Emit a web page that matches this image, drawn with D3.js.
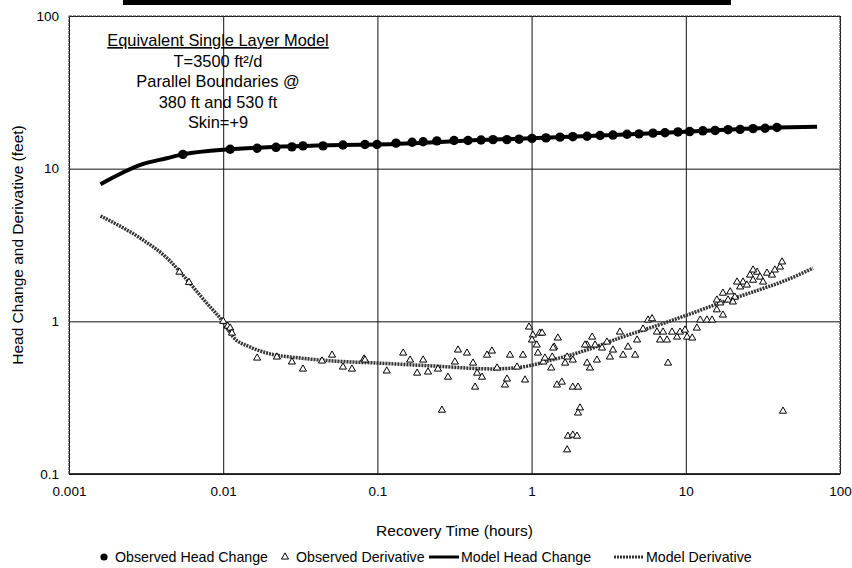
<!DOCTYPE html>
<html>
<head>
<meta charset="utf-8">
<script src="https://cdn.jsdelivr.net/npm/d3@7"></script>
<style>
  body { margin: 0; background: #fff; }
  svg { font-family: Arial, "Liberation Sans", sans-serif; }
</style>
</head>
<body>
<svg id="chart" width="852" height="568"></svg>
<script>
// observed head change (hours, feet)
const headTime = [0.00548, 0.0111, 0.0166, 0.022, 0.0279, 0.0329, 0.0444, 0.0598, 0.0831, 0.0994,
  0.132, 0.168, 0.198, 0.243, 0.314, 0.387, 0.47, 0.562, 0.692, 0.829,
  1.006, 1.24, 1.53, 1.85, 2.29, 2.78, 3.37, 4.16, 4.97, 6.13,
  7.33, 8.89, 10.6, 12.9, 15.5, 18.8, 22.5, 27.3, 32.7, 39.0];
const headValue = [12.4, 13.4, 13.6, 13.8, 13.9, 14.1, 14.1, 14.3, 14.4, 14.4,
  14.7, 14.9, 15.0, 15.2, 15.3, 15.3, 15.4, 15.5, 15.5, 15.6,
  15.8, 15.9, 16.1, 16.2, 16.3, 16.5, 16.6, 16.8, 16.9, 17.1,
  17.2, 17.4, 17.5, 17.7, 17.8, 18.0, 18.1, 18.3, 18.4, 18.6];

// observed derivative
const derivTime = [0.0052, 0.006, 0.01, 0.0107, 0.0111, 0.0114, 0.0166, 0.0223, 0.0279, 0.0329,
  0.0437, 0.0508, 0.0598, 0.0684, 0.0819, 0.0831, 0.115, 0.147, 0.163, 0.181,
  0.198, 0.213, 0.247, 0.287, 0.318, 0.333, 0.381, 0.417, 0.443, 0.43,
  0.477, 0.514, 0.553, 0.597, 0.692, 0.672, 0.724, 0.804, 0.879, 0.906,
  0.262, 0.962, 1.02, 1.13, 1.006, 1.08, 1.10, 1.19, 1.36, 1.40,
  1.48, 1.34, 1.46, 1.57, 1.85, 2.00, 2.06, 2.00, 1.72, 1.85,
  1.97, 1.70, 1.65, 1.70, 1.85, 2.29, 2.39, 2.47, 2.29, 2.58,
  2.65, 1.17, 1.38, 1.22, 2.22, 2.86, 3.08, 3.37, 3.22, 3.74,
  3.92, 4.22, 4.69, 4.83, 5.69, 6.04, 5.28, 6.50, 6.81, 7.55,
  7.67, 7.12, 8.14, 8.77, 9.17, 9.88, 10.2, 11.0, 11.8, 12.4,
  13.7, 14.8, 15.9, 17.4, 16.7, 15.9, 17.4, 19.4, 20.8, 22.5,
  23.5, 26.1, 27.3, 29.0, 30.3, 31.7, 33.6, 36.2, 37.8, 40.8,
  42.1, 24.9, 27.3, 21.5, 18.8, 20.2, 42.7];
const derivValue = [2.1, 1.8, 1.0, 0.93, 0.904, 0.838, 0.575, 0.584, 0.542, 0.487,
  0.55, 0.601, 0.502, 0.487, 0.567, 0.558, 0.473, 0.62, 0.558, 0.458,
  0.558, 0.466, 0.487, 0.431, 0.542, 0.649, 0.62, 0.533, 0.458, 0.371,
  0.431, 0.601, 0.639, 0.495, 0.419, 0.383, 0.601, 0.502, 0.601, 0.413,
  0.262, 0.918, 0.813, 0.838, 0.755, 0.70, 0.62, 0.542, 0.584, 0.679,
  0.778, 0.495, 0.383, 0.40, 0.371, 0.371, 0.271, 0.251, 0.177, 0.18,
  0.177, 0.144, 0.533, 0.584, 0.558, 0.533, 0.495, 0.789, 0.70, 0.70,
  0.558, 0.838, 0.669, 0.575, 0.70, 0.669, 0.732, 0.649, 0.584, 0.851,
  0.601, 0.679, 0.601, 0.755, 1.02, 1.04, 0.891, 0.851, 0.755, 0.755,
  0.533, 0.851, 0.851, 0.789, 0.851, 0.877, 0.789, 0.778, 0.904, 1.02,
  1.02, 1.02, 1.19, 1.10, 1.32, 1.38, 1.53, 1.56, 1.44, 1.68,
  1.81, 2.01, 1.86, 2.10, 1.95, 1.81, 2.07, 2.01, 2.17, 2.27,
  2.45, 1.73, 2.17, 1.81, 1.38, 1.34, 0.258];

// model curves
const modelHeadTime = [0.0016, 0.003, 0.0043, 0.0055, 0.0111, 0.0598, 0.1, 0.56, 1.0, 3.37, 10.6, 39, 71];
const modelHeadValue = [7.9, 10.7, 11.7, 12.4, 13.4, 14.3, 14.4, 15.5, 15.8, 16.6, 17.5, 18.6, 18.8];
const modelDerivTime = [0.0016, 0.00302, 0.00432, 0.00582, 0.0078, 0.01, 0.0116, 0.0149, 0.0192, 0.0315,
  0.0515, 0.1, 0.23, 0.56, 0.84, 1.37, 2.29, 3.74, 6.13, 10.2, 16.7, 27.3, 45.3, 66.8];
const modelDerivValue = [4.9, 3.41, 2.6, 1.87, 1.32, 0.99, 0.79, 0.68, 0.62, 0.575,
  0.55, 0.533, 0.51, 0.488, 0.5, 0.56, 0.65, 0.78, 0.92, 1.1, 1.32, 1.56, 1.87, 2.23];

const xTicks = [0.001, 0.01, 0.1, 1, 10, 100];
const yTicks = [0.1, 1, 10, 100];
const noteLines = ["T=3500 ft\u00B2/d", "Parallel Boundaries @", "380 ft and 530 ft", "Skin=+9"];

const svg = d3.select("#chart");
const margin = { top: 16, right: 12, bottom: 94, left: 69 };
const width = 852 - margin.left - margin.right,
  height = 568 - margin.top - margin.bottom;

const x = d3.scaleLog().domain([0.001, 100]).range([0, width]);
const y = d3.scaleLog().domain([0.1, 100]).range([height, 0]);

// remnant of the title underline, cut off at the top
svg.append("rect").attr("x", 123).attr("y", 0).attr("width", 608).attr("height", 5).attr("fill", "#000");

const g = svg.append("g").attr("transform", "translate(" + margin.left + "," + margin.top + ")");

// grid + axes
g.append("g")
  .attr("transform", "translate(0," + height + ")")
  .call(d3.axisBottom(x).tickValues(xTicks).tickSize(-height).tickPadding(12).tickFormat(d => String(d)))
  .call(a => a.select(".domain").remove())
  .call(a => a.selectAll("line").attr("stroke", "#111").attr("stroke-width", 1))
  .call(a => a.selectAll("text").attr("font-size", 13.5).attr("fill", "#000"));

g.append("g")
  .call(d3.axisLeft(y).tickValues(yTicks).tickSize(-width).tickPadding(10).tickFormat(d => String(d)))
  .call(a => a.select(".domain").remove())
  .call(a => a.selectAll("line").attr("stroke", "#111").attr("stroke-width", 1))
  .call(a => a.selectAll("text").attr("font-size", 13.5).attr("fill", "#000"));

g.append("rect")
  .attr("width", width).attr("height", height)
  .attr("fill", "none").attr("stroke", "#444").attr("stroke-width", 1.2)
  .attr("stroke-dasharray", "3,1");
g.append("line")
  .attr("x1", 0).attr("x2", width).attr("y1", height).attr("y2", height)
  .attr("stroke", "#111").attr("stroke-width", 1.5);

// axis titles
svg.append("text")
  .attr("x", margin.left + width / 2).attr("y", 536)
  .attr("text-anchor", "middle").attr("font-size", 15.5)
  .text("Recovery Time (hours)");

svg.append("text")
  .attr("transform", "translate(23," + (margin.top + height / 2) + ") rotate(-90)")
  .attr("text-anchor", "middle").attr("font-size", 15.5)
  .text("Head Change and Derivative (feet)");

// model head change
const line = d3.line().x(d => x(d[0])).y(d => y(d[1])).curve(d3.curveMonotoneX);
g.append("path")
  .datum(d3.zip(modelHeadTime, modelHeadValue))
  .attr("d", line)
  .attr("fill", "none").attr("stroke", "#000").attr("stroke-width", 4);

// model derivative
g.append("path")
  .datum(d3.zip(modelDerivTime, modelDerivValue))
  .attr("d", line)
  .attr("fill", "none").attr("stroke", "#333").attr("stroke-width", 3.5)
  .attr("stroke-dasharray", "2,1");

// observed derivative
const tri = d3.symbol().type(d3.symbolTriangle).size(22);
g.append("g").selectAll("path")
  .data(d3.zip(derivTime, derivValue))
  .enter().append("path")
  .attr("d", tri)
  .attr("transform", d => "translate(" + x(d[0]) + "," + y(d[1]) + ")")
  .attr("fill", "#fff").attr("stroke", "#000").attr("stroke-width", 1);

// observed head change
g.append("g").selectAll("circle")
  .data(d3.zip(headTime, headValue))
  .enter().append("circle")
  .attr("cx", d => x(d[0])).attr("cy", d => y(d[1]))
  .attr("r", 4.7).attr("fill", "#000");

// annotation
const note = svg.append("g").attr("font-size", 16.4).attr("text-anchor", "middle");
note.append("text").attr("x", 218).attr("y", 46)
  .attr("text-decoration", "underline")
  .text("Equivalent Single Layer Model");
noteLines.forEach((t, i) => {
  note.append("text").attr("x", 218).attr("y", 66.5 + i * 20.5).text(t);
});

// legend
const legend = svg.append("g").attr("font-size", 14.2).attr("transform", "translate(0,557)");
const items = [
  { label: "Observed Head Change", x: 114, kind: "circle" },
  { label: "Observed Derivative", x: 295, kind: "tri" },
  { label: "Model Head Change", x: 460, kind: "head" },
  { label: "Model Derivative", x: 645, kind: "deriv" }
];
items.forEach(it => {
  const li = legend.append("g").attr("transform", "translate(" + it.x + ",0)");
  if (it.kind === "circle") {
    li.append("circle").attr("cx", -10).attr("cy", 0).attr("r", 3.6).attr("fill", "#000");
  } else if (it.kind === "tri") {
    li.append("path").attr("d", tri).attr("transform", "translate(-10,0)")
      .attr("fill", "#fff").attr("stroke", "#000").attr("stroke-width", 1);
  } else {
    li.append("line").attr("x1", -31).attr("x2", -1).attr("y1", 0).attr("y2", 0)
      .attr("stroke", it.kind === "head" ? "#000" : "#333").attr("stroke-width", 3)
      .attr("stroke-dasharray", it.kind === "head" ? null : "2,1");
  }
  li.append("text").attr("x", 1).attr("dy", "0.35em").text(it.label);
});
</script>
</body>
</html>
